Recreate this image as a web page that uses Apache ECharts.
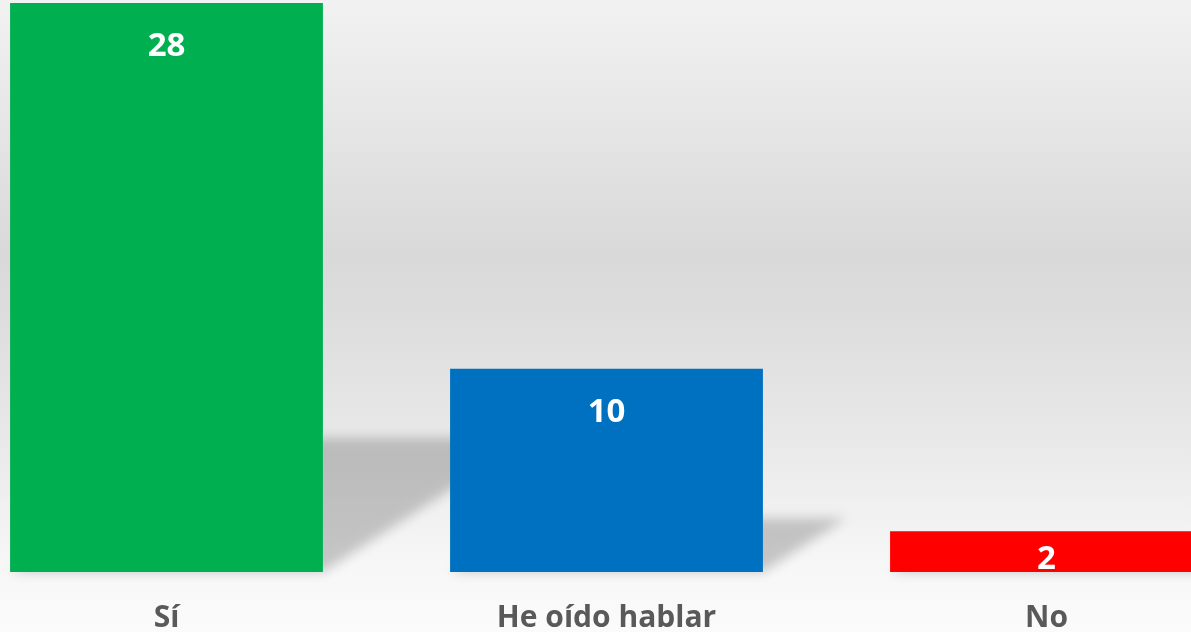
<!DOCTYPE html>
<html>
<head>
<meta charset="utf-8">
<style>
  html, body { margin: 0; padding: 0; }
  #chart { width: 1191px; height: 632px; }
</style>
<script src="https://cdn.jsdelivr.net/npm/echarts@6/dist/echarts.min.js"></script>
</head>
<body>
<div id="chart"></div>
<script>
const categories = ['Sí', 'He oído hablar', 'No'];
const values = [28, 10, 2];
const barColors = ['#00B050', '#0070C0', '#FF0000'];

const chart = echarts.init(document.getElementById('chart'), null, { renderer: 'canvas' });

const FONT = '"Open Sans", "DejaVu Sans", sans-serif';
const BAR_FRAC = 0.711;

const option = {
  animation: false,
  backgroundColor: {
    type: 'linear', x: 0, y: 0, x2: 0, y2: 1,
    colorStops: [
      { offset: 0, color: '#f2f2f2' },
      { offset: 0.40, color: '#d9d9d9' },
      { offset: 0.50, color: '#dddddd' },
      { offset: 0.70, color: '#e9e9e9' },
      { offset: 0.90, color: '#f7f7f7' },
      { offset: 1, color: '#fbfbfb' }
    ]
  },
  grid: {
    left: -53.5, top: 3, width: 1320, bottom: 60,
    containLabel: false,
    outerBoundsMode: 'none'
  },
  xAxis: {
    type: 'category',
    data: categories,
    boundaryGap: true,
    axisLine: { show: false },
    axisTick: { show: false },
    axisLabel: {
      color: '#595959', fontFamily: FONT, fontWeight: 'bold', fontSize: 30,
      margin: 31, interval: 0, hideOverlap: false
    }
  },
  yAxis: {
    type: 'value', min: 0, max: 28,
    show: false,
    splitLine: { show: false }
  },
  series: [
    {
      type: 'custom',
      z: 1,
      silent: true,
      clip: false,
      data: values.map((v, i) => [i, v]),
      renderItem: function (params, api) {
        const idx = api.value(0);
        const val = api.value(1);
        const base = api.coord([idx, 0]);
        const top = api.coord([idx, val]);
        const w = api.size([1, 0])[0] * BAR_FRAC;
        const x0 = base[0] - w / 2, x1 = base[0] + w / 2;
        const H = base[1] - top[1];
        const h = 0.22 * H + 9;
        const dx = 1.55 * h;
        const off = 3000;
        return {
          type: 'polygon',
          shape: {
            points: [
              [x0 - off, base[1]],
              [x1 - off, base[1]],
              [x1 + dx - off, base[1] - h],
              [x0 + dx - off, base[1] - h]
            ]
          },
          style: {
            fill: '#000',
            shadowBlur: 12,
            shadowColor: 'rgba(0,0,0,0.2)',
            shadowOffsetX: off,
            shadowOffsetY: 0
          }
        };
      }
    },
    {
      type: 'bar',
      z: 2,
      barWidth: (BAR_FRAC * 100) + '%',
      data: values.map((v, i) => ({
        value: v,
        itemStyle: { color: barColors[i] },
        label: { distance: i === 2 ? 12 : 27 }
      })),
      label: {
        show: true,
        position: 'insideTop',
        color: '#ffffff',
        fontFamily: FONT,
        fontWeight: 'bold',
        fontSize: 33
      }
    }
  ]
};

chart.setOption(option);
</script>
</body>
</html>
